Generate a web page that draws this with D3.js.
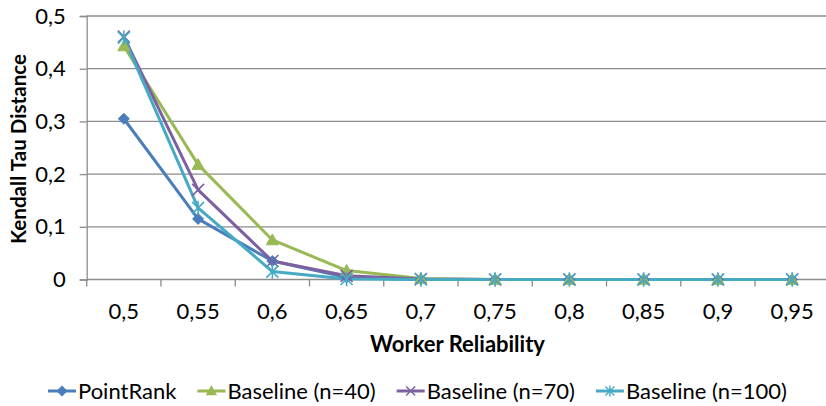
<!DOCTYPE html>
<html><head><meta charset="utf-8">
<script src="https://cdn.jsdelivr.net/npm/d3@7"></script>
<style>
html,body{margin:0;padding:0;background:#fff;}
svg{display:block;font-family:Lato,"Open Sans",sans-serif;}
</style></head>
<body>
<svg id="chart" width="826" height="406"></svg>
<script>
const categories = ["0,5","0,55","0,6","0,65","0,7","0,75","0,8","0,85","0,9","0,95"];
const pointRank   = [0.305, 0.115, 0.035, 0.004, 0, 0, 0, 0, 0, 0];
const baseline40  = [0.443, 0.218, 0.075, 0.017, 0.002, 0, 0, 0, 0, 0];
const baseline70  = [0.461, 0.170, 0.035, 0.007, 0.001, 0, 0, 0, 0, 0];
const baseline100 = [0.459, 0.136, 0.015, 0.001, 0, 0, 0, 0, 0, 0];
const yTicks = [0, 0.1, 0.2, 0.3, 0.4, 0.5];
const yTickLabels = ["0","0,1","0,2","0,3","0,4","0,5"];
const seriesNames = ["PointRank","Baseline (n=40)","Baseline (n=70)","Baseline (n=100)"];
const seriesColors = ["#4a7ebb","#98b954","#7d60a0","#46aac5"];
const seriesMarkers = ["diamond","triangle","x","star"];

(function(){
const series = [pointRank, baseline40, baseline70, baseline100].map((v,i)=>({
  name: seriesNames[i], color: seriesColors[i], marker: seriesMarkers[i], values: v
}));

const svg = d3.select("#chart");
const pLeft = 86.7, pRight = 829.3, pTop = 16, pBottom = 279.5;
const fs = 22;

const x = d3.scaleBand().domain(categories).range([pLeft, pRight]).padding(0);
const y = d3.scaleLinear().domain([0, 0.5]).range([pBottom, pTop]);
const cx = c => x(c) + x.bandwidth()/2;

// gridlines
svg.append("g").selectAll("line").data(yTicks.slice(1)).join("line")
  .attr("x1", pLeft).attr("x2", 826).attr("y1", d=>y(d)).attr("y2", d=>y(d))
  .attr("stroke", "#8c8c8c").attr("stroke-width", 1.3);

// y axis
const yAxis = d3.axisLeft(y).tickValues(yTicks).tickSize(7)
  .tickFormat((d,i)=>yTickLabels[i]);
const yg = svg.append("g").attr("transform", `translate(${pLeft},0)`).call(yAxis);
yg.select(".domain").attr("stroke","#8c8c8c").attr("stroke-width",1.3);
yg.selectAll(".tick line").attr("stroke","#8c8c8c").attr("stroke-width",1.3);
yg.selectAll(".tick text").attr("x",-21).attr("font-size",fs).attr("fill","#000")
  .attr("font-family","Lato");

// x axis baseline + ticks at band boundaries
const xg = svg.append("g");
xg.append("line").attr("x1",pLeft).attr("x2",826).attr("y1",pBottom).attr("y2",pBottom)
  .attr("stroke","#8c8c8c").attr("stroke-width",1.3);
xg.selectAll("line.tk").data(categories).join("line").attr("class","tk")
  .attr("x1",d=>x(d)).attr("x2",d=>x(d)).attr("y1",pBottom).attr("y2",pBottom+7)
  .attr("stroke","#8c8c8c").attr("stroke-width",1.3);
xg.selectAll("text").data(categories).join("text")
  .attr("x",d=>cx(d)).attr("y",318.5).attr("text-anchor","middle")
  .attr("font-size",fs).attr("fill","#000").text(d=>d);

// axis titles
svg.append("text").attr("x",457.5).attr("y",352).attr("text-anchor","middle")
  .attr("font-size",22).attr("font-weight","bold").text("Worker Reliability");
svg.append("text").attr("transform","translate(25.5,149) rotate(-90)")
  .attr("text-anchor","middle").attr("font-size",20.6).attr("font-weight","bold")
  .text("Kendall Tau Distance");

function markerPath(type, s){
  switch(type){
    case "diamond": return `M0,${-s}L${s},0L0,${s}L${-s},0Z`;
    case "triangle": return `M0,${-s}L${s},${s*0.8}L${-s},${s*0.8}Z`;
    case "x": return `M${-s},${-s}L${s},${s}M${-s},${s}L${s},${-s}`;
    case "star": return `M${-s},${-s}L${s},${s}M${-s},${s}L${s},${-s}M0,${-s*1.2}L0,${s*1.2}`;
  }
}

const line = d3.line().x((d,i)=>cx(categories[i])).y(d=>y(d));
const sg = svg.append("g");
series.forEach(s=>{
  sg.append("path").attr("d", line(s.values)).attr("fill","none")
    .attr("stroke", s.color).attr("stroke-width", 3).attr("stroke-linejoin","round");
});
series.forEach(s=>{
  const filled = s.marker==="diamond"||s.marker==="triangle";
  sg.append("g").selectAll("path").data(s.values).join("path")
    .attr("transform",(d,i)=>`translate(${cx(categories[i])},${y(d)})`)
    .attr("d", markerPath(s.marker, s.marker==="diamond"?5.5:6))
    .attr("fill", filled ? s.color : "none")
    .attr("stroke", s.color).attr("stroke-width", filled?1:1.6);
});

// legend
const leg = svg.append("g");
let lx = 48;
const ly = 391;
series.forEach(s=>{
  const g = leg.append("g");
  g.append("line").attr("x1",lx).attr("x2",lx+28).attr("y1",ly).attr("y2",ly)
    .attr("stroke",s.color).attr("stroke-width",3);
  const filled = s.marker==="diamond"||s.marker==="triangle";
  g.append("path").attr("transform",`translate(${lx+14},${ly})`)
    .attr("d", markerPath(s.marker, 4.5))
    .attr("fill", filled ? s.color : "none").attr("stroke",s.color).attr("stroke-width",1.4);
  const t = g.append("text").attr("x",lx+30).attr("y",ly+7.5).attr("font-size",fs)
    .attr("fill","#000").text(s.name);
  const w = t.node().getComputedTextLength();
  lx = lx + 30 + w + 21;
});
})();
</script>
</body></html>
